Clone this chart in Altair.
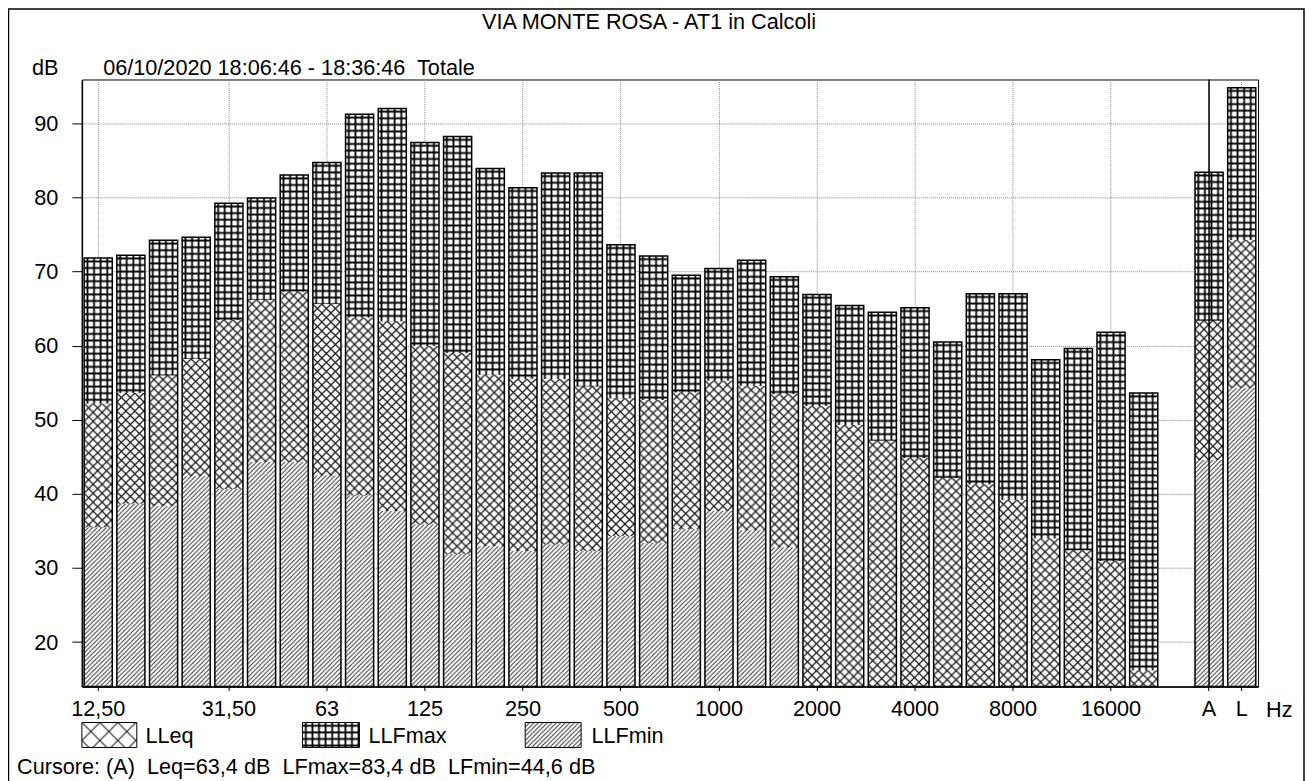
import urllib.parse
import altair as alt
import pandas as pd

# ---------------- data ----------------
bands = ["12,50", "16", "20", "25", "31,50", "40", "50", "63", "80", "100",
         "125", "160", "200", "250", "315", "400", "500", "630", "800", "1000",
         "1250", "1600", "2000", "2500", "3150", "4000", "5000", "6300", "8000",
         "10000", "12500", "16000", "20000", "A", "L"]
lfmax = [71.8, 72.2, 74.2, 74.6, 79.2, 79.9, 83.0, 84.7, 91.2, 92.0,
         87.4, 88.2, 83.9, 81.3, 83.3, 83.3, 73.6, 72.1, 69.5, 70.4,
         71.5, 69.3, 66.9, 65.4, 64.5, 65.1, 60.5, 67.0, 67.0,
         58.1, 59.6, 61.8, 53.6, 83.4, 94.8]
leq = [52.2, 53.6, 56.0, 58.2, 63.5, 66.2, 67.3, 65.6, 63.8, 63.3,
       60.0, 59.0, 56.1, 55.5, 55.5, 54.5, 52.9, 52.7, 53.7, 55.3,
       54.6, 53.5, 51.9, 49.3, 47.2, 44.9, 42.2, 41.3, 39.2,
       34.0, 32.4, 31.0, 16.2, 63.4, 74.3]
lfmin = [35.5, 38.7, 38.4, 42.4, 40.7, 44.3, 44.3, 42.5, 39.8, 37.7,
         35.9, 31.9, 33.0, 32.3, 33.2, 32.3, 34.3, 33.4, 35.3, 37.7,
         35.1, 32.8, None, None, None, None, None, None, None,
         None, None, None, None, 44.6, 54.3]

domain_keys = bands[:33] + [" "] + bands[33:]
tick_keys = ["12,50", "31,50", "63", "125", "250", "500", "1000", "2000",
             "4000", "8000", "16000", "A", "L"]
y_ticks = [20, 30, 40, 50, 60, 70, 80, 90]

title_txt = "VIA MONTE ROSA - AT1 in Calcoli"
subtitle_txt = "06/10/2020 18:06:46 - 18:36:46\u00a0 Totale"
cursor_txt = "Cursore: (A)\u00a0 Leq=63,4 dB\u00a0 LFmax=83,4 dB\u00a0 LFmin=44,6 dB"
series_names = ["LLeq", "LLFmax", "LLFmin"]

df = pd.DataFrame({"band": bands, "lfmax": lfmax, "leq": leq, "lfmin": lfmin})

FONT = "Liberation Sans"
FS = 21.7
W, H = 1178, 608


def pattern_uri(tw, th, inner):
    svg = ("<svg xmlns='http://www.w3.org/2000/svg' width='100%' height='100%'>"
           f"<defs><pattern id='p' width='{tw}' height='{th}' patternUnits='userSpaceOnUse'>"
           f"<rect width='{tw}' height='{th}' fill='white'/>{inner}</pattern></defs>"
           "<rect width='100%' height='100%' fill='url(#p)'/></svg>")
    return "data:image/svg+xml;charset=utf-8," + urllib.parse.quote(svg)


GRID = pattern_uri(6.6, 6.6, "<path d='M0 3.3H6.6M3.3 0V6.6' stroke='black' stroke-width='1.8'/>")
CROSS = pattern_uri(9, 9, "<path d='M-1 -1L10 10M10 -1L-1 10' stroke='#1a1a1a' stroke-width='1.25'/>")
CROSS_BIG = pattern_uri(18, 18, "<path d='M-1 -1L19 19M19 -1L-1 19' stroke='#222' stroke-width='1.1'/>")
DIAG = pattern_uri(4.5, 4.5, "<path d='M0 4.5L4.5 0M-1 1L1 -1M3.5 5.5L5.5 3.5' stroke='#333' stroke-width='1'/>")

X = alt.X("band:N", sort=domain_keys,
          scale=alt.Scale(domain=domain_keys, paddingInner=0.14, paddingOuter=0.07),
          axis=alt.Axis(values=tick_keys, title=None, labelAngle=0, bandPosition=0.5,
                        tickSize=4, labelPadding=8, labelFont=FONT, labelFontSize=FS,
                        labelColor="black", domainColor="black", domainWidth=1.5,
                        tickColor="black", grid=True, gridColor="#8a8a8a",
                        gridDash=[1, 1], gridWidth=1))
Ysc = alt.Scale(domain=[14, 95.9], nice=False, zero=False)
Yax = alt.Axis(values=y_ticks, title=None, tickSize=10, labelPadding=14,
               labelFont=FONT, labelFontSize=FS, labelColor="black",
               domainColor="black", domainWidth=1.5, tickColor="black",
               grid=True, gridColor="#8a8a8a", gridDash=[1, 1], gridWidth=1)

base = alt.Chart(df)

img_max = base.mark_image(url=GRID, aspect=False).encode(
    x=X, y=alt.Y("lfmax:Q", scale=Ysc, axis=Yax), y2=alt.datum(14))
img_leq = base.mark_image(url=CROSS, aspect=False).encode(
    x=X, y=alt.Y("leq:Q", scale=Ysc), y2=alt.datum(14))
img_min = base.transform_filter("isValid(datum.lfmin)").mark_image(url=DIAG, aspect=False).encode(
    x=X, y=alt.Y("lfmin:Q", scale=Ysc), y2=alt.datum(14))
outline = base.mark_bar(fillOpacity=0, stroke="black", strokeWidth=1.5).encode(
    x=X, y=alt.Y("lfmax:Q", scale=Ysc), y2=alt.datum(14))
cursor = base.transform_filter("datum.band == 'A'").mark_rule(
    color="black", strokeWidth=1.5).encode(x=X, y=alt.value(0), y2=alt.value(H))

one = pd.DataFrame({"k": [0]})


def txt(s, x, y, align="left", size=FS):
    return alt.Chart(one).mark_text(text=s, font=FONT, fontSize=size, color="black",
                                    align=align, baseline="alphabetic").encode(
        x=alt.value(x), y=alt.value(y))


def swatch(uri, x0, x1, y0, y1):
    im = alt.Chart(one).mark_image(url=uri, aspect=False).encode(
        x=alt.value(x0), x2=alt.value(x1), y=alt.value(y0), y2=alt.value(y1))
    bx = alt.Chart(one).mark_rect(fillOpacity=0, stroke="black", strokeWidth=1).encode(
        x=alt.value(x0), x2=alt.value(x1), y=alt.value(y0), y2=alt.value(y1))
    return [im, bx]


frame = alt.Chart(one).mark_rect(fillOpacity=0, stroke="black", strokeWidth=1.5).encode(
    x=alt.value(-73.5), x2=alt.value(1224), y=alt.value(-70.5), y2=alt.value(730))

layers = [img_max, img_leq, img_min, outline, cursor, frame,
          txt(title_txt, 568, -50.5, align="center"),
          txt("dB", -50, -4),
          txt(subtitle_txt, 21.3, -4),
          txt("Hz", 1186, 638),
          txt(series_names[0], 63.7, 665),
          txt(series_names[1], 287, 665),
          txt(series_names[2], 510.3, 665),
          txt(cursor_txt, -65, 696)]
layers += swatch(CROSS_BIG, 0, 55, 644, 669)
layers += swatch(GRID, 221, 278, 644, 669)
layers += swatch(DIAG, 444, 500, 644, 669)

chart = alt.layer(*layers).properties(
    width=W, height=H,
    autosize=alt.AutoSizeParams(type="none"),
    padding={"left": 74, "top": 71, "right": 47, "bottom": 94},
    background="white",
).configure_view(stroke="black", strokeWidth=1)

chart.save("out.html", embed_options={"renderer": "svg", "actions": False})
